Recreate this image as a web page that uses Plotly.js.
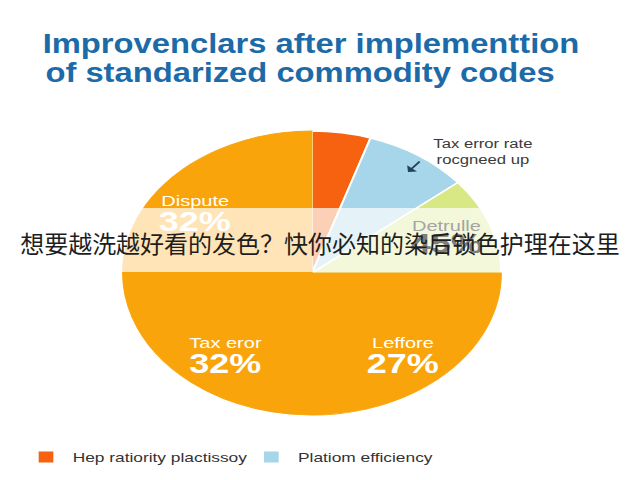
<!DOCTYPE html>
<html lang="en">
<head>
<meta charset="UTF-8" />
<script src="https://cdn.plot.ly/plotly-3.0.1.min.js"></script>
<title>Standardized commodity codes</title>
<style>
  html, body { margin: 0; padding: 0; background: #fff; overflow: hidden; }
  /* the reference is a square picture stretched to 640 wide, so draw 480x480 and stretch */
  #wrap { width: 480px; height: 480px; transform: scaleX(1.33333); transform-origin: 0 0; }
  /* title letters are a bit narrower than the stretch makes them */
  .g-gtitle { transform-box: fill-box; transform-origin: 0% 50%; transform: scaleX(0.877); }
</style>
</head>
<body>
<div id="wrap"><div id="chart"></div></div>
<script>
// slices, clockwise from 12 o'clock
const sliceLabels = ["Hep ratiority plactissoy", "Platiom efficiency", "Detrulle", "Leffore", "Tax eror", "Dispute"];
const sliceValues = [5, 9, 11, 27, 18, 30];
const slicePctText = ["", "", "45%", "27%", "32%", "32%"];
const legendSlices = [0, 1];
const titleLines = ["Improvenclars after implementtion", "of standarized commodity codes"];
const noteText = "Tax error rate<br>rocgneed up";
const overlayText = "想要越洗越好看的发色？快你必知的染后锁色护理在这里";

// styles
const orange = "#FAA40B";
const sliceColors = ["#F6620F", "#A7D5EA", "#D7E884", orange, orange, orange];
const sliceEdgeColor = ["#ffffff", "#ffffff", "#ffffff", orange, orange, orange];
const sliceEdge = [1.5, 1.5, 1.5, 0.8, 0.8, 0.8];
const labelInk = [null, null, ["#a4a4a4", "#7e7e7e"], ["#fff", "#fff"], ["#fff", "#fff"], ["#fff", "#fff"]];
// label spots in unstretched pixels: x, y of name, y of percent
const labelSpots = [null, null, [335, 225, 244], [302, 342, 364], [169, 342, 364], [146, 200, 222]];

const W = 480, H = 480;
const px = (x) => x / W;
const py = (y) => 1 - y / H;
const sans = "Liberation Sans, Arial, sans-serif";
const titleFont = { family: sans, size: 28, weight: "bold", color: "#1C6BA8" };

const traces = [{
  type: "pie",
  labels: sliceLabels,
  values: sliceValues,
  sort: false,
  direction: "clockwise",
  rotation: 0,
  textinfo: "none",
  hoverinfo: "label+value",
  showlegend: false,
  marker: { colors: sliceColors, line: { color: sliceEdgeColor, width: sliceEdge } },
  domain: { x: [px(92), px(376)], y: [py(415), py(131)] }
}];

// legend entries for the two small slices only
legendSlices.forEach((i) => {
  traces.push({
    type: "scatter", mode: "markers", x: [null], y: [null],
    name: sliceLabels[i],
    marker: { symbol: "square", size: 11, color: sliceColors[i] },
    hoverinfo: "skip"
  });
});

function note(x, y, text, font, extra) {
  return Object.assign({
    xref: "paper", yref: "paper", x: px(x), y: py(y),
    xanchor: "center", yanchor: "middle",
    text: text, showarrow: false, font: font
  }, extra || {});
}

const annotations = [];
sliceLabels.forEach((name, i) => {
  const spot = labelSpots[i];
  if (!spot) return;
  annotations.push(note(spot[0], spot[1], name, { family: sans, size: 15, color: labelInk[i][0] }));
  annotations.push(note(spot[0], spot[2], slicePctText[i],
    { family: sans, size: 27, weight: "bold", color: labelInk[i][1] }));
});

// second title line
const title2Idx = annotations.length;
annotations.push(note(32, 72, titleLines[1], titleFont, { xanchor: "left" }));

// side note with its little arrow
annotations.push(note(361.5, 152.5, noteText, { family: sans, size: 12.5, color: "#3a3a3a" }, { align: "center" }));
annotations.push(note(306, 172, "", { family: sans, size: 10 }, {
  showarrow: true, ax: 10, ay: -12,
  arrowhead: 1, arrowsize: 1, arrowwidth: 1.6, arrowcolor: "#21435e", standoff: 0
}));

// the caption printed across the picture (not stretched in the reference)
const overlayIdx = annotations.length;
annotations.push(note(240, 242, overlayText,
  { family: "Noto Sans CJK SC, sans-serif", size: 24, color: "#1e1e1e" }));

const css = document.createElement("style");
css.textContent =
  '.annotation[data-index="' + overlayIdx + '"] text.annotation-text {' +
  ' transform-box: fill-box; transform-origin: 50% 50%; transform: scaleX(0.75); }' +
  '.annotation[data-index="' + title2Idx + '"] text.annotation-text {' +
  ' transform-box: fill-box; transform-origin: 0% 50%; transform: scaleX(0.877); }';
document.head.appendChild(css);

const layout = {
  width: W, height: H,
  margin: { l: 0, r: 0, t: 0, b: 0 },
  paper_bgcolor: "#ffffff",
  plot_bgcolor: "rgba(0,0,0,0)",
  title: {
    text: titleLines[0],
    x: px(32), xanchor: "left", xref: "paper",
    y: py(43), yanchor: "middle", yref: "paper",
    font: titleFont
  },
  xaxis: { visible: false },
  yaxis: { visible: false },
  showlegend: true,
  legend: {
    orientation: "h", x: px(14.5), xanchor: "left", y: py(457), yanchor: "middle",
    entrywidth: 124, entrywidthmode: "pixels",
    font: { family: sans, size: 13, color: "#333333" },
    bgcolor: "rgba(0,0,0,0)"
  },
  shapes: [{
    type: "rect", xref: "paper", yref: "paper", layer: "above",
    x0: 0, x1: 1, y0: py(272), y1: py(208),
    fillcolor: "rgba(255,255,255,0.7)", line: { width: 0 }
  }],
  annotations: annotations
};

Plotly.newPlot("chart", traces, layout, { displayModeBar: false, staticPlot: true });
</script>
</body>
</html>
